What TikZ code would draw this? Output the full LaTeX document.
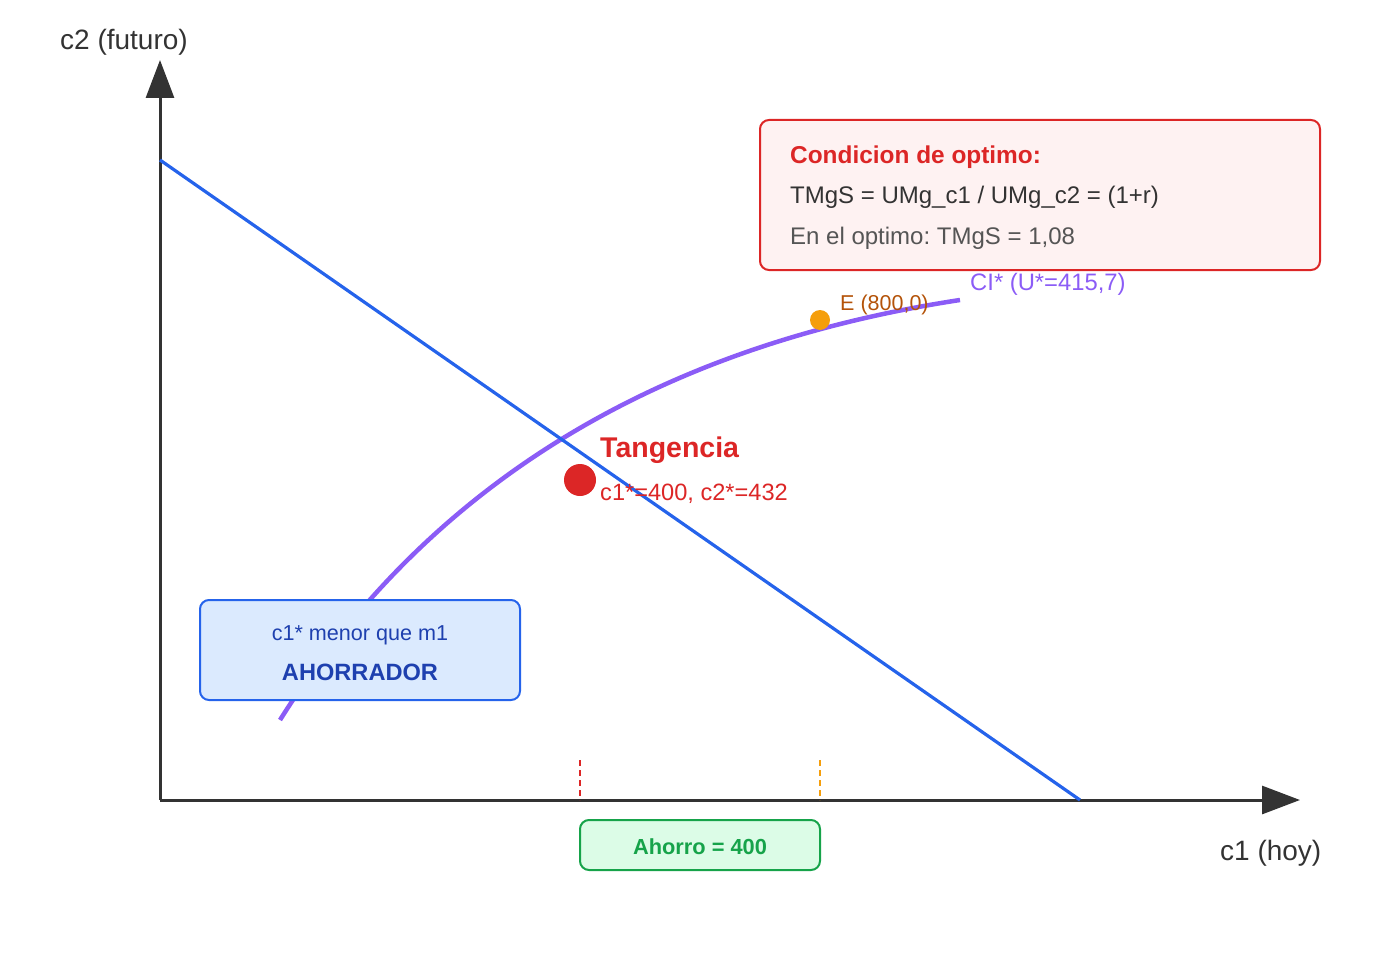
\documentclass[tikz,border=0pt]{standalone}
\usepackage{fontspec}
\setmainfont{Liberation Sans}
\usetikzlibrary{arrows.meta}
\frenchspacing
\definecolor{axis}{HTML}{333333}
\definecolor{bline}{HTML}{2563EB}
\definecolor{purp}{HTML}{8B5CF6}
\definecolor{redc}{HTML}{DC2626}
\definecolor{orng}{HTML}{F59E0B}
\definecolor{orngtxt}{HTML}{B45309}
\definecolor{redfill}{HTML}{FEF2F2}
\definecolor{bluefill}{HTML}{DBEAFE}
\definecolor{bluetxt}{HTML}{1E40AF}
\definecolor{grnfill}{HTML}{DCFCE7}
\definecolor{grn}{HTML}{16A34A}
\definecolor{graytxt}{HTML}{555555}
\newcommand{\fs}[1]{\fontsize{#1}{#1}\selectfont}
\tikzset{
  axisline/.style={draw=axis, line width=3pt, -{Triangle[length=38pt,width=28pt]}},
  txt/.style={inner sep=0pt, anchor=base west},
  ctxt/.style={inner sep=0pt, anchor=base},
  infobox/.style={rounded corners=9pt, line width=2pt},
  guide/.style={line width=2pt, dash pattern=on 6pt off 4pt},
}
\begin{document}
\begin{tikzpicture}[x=1pt,y=-1pt]
\useasboundingbox (0,0) rectangle (1400,960);
% coordinates
\coordinate (O) at (160,800);
\coordinate (Ytop) at (160,60);
\coordinate (Xend) at (1300,800);
\coordinate (B1) at (160,160);
\coordinate (B2) at (1080,800);
\coordinate (C0) at (280,720);
\coordinate (C3) at (960,300);
% axes
\draw[axisline] (O) -- (Ytop);
\draw[axisline] (O) -- (Xend);
% indifference curve
\draw[purp, line width=4.5pt] (C0) .. controls (426.7,486.7) and (653.3,346.7) .. (C3);
% budget line
\draw[bline, line width=3.2pt] (B1) -- (B2);
% guides
\coordinate (R1) at (580,760); \coordinate (R2) at (580,800);
\coordinate (Q1) at (820,760); \coordinate (Q2) at (820,800);
\draw[guide, redc] (R1) -- (R2);
\draw[guide, orng] (Q1) -- (Q2);
% points
\fill[redc] (580,480) circle (16pt) coordinate (T);
\fill[orng] (820,320) circle (10pt) coordinate (E);
% red box
\draw[infobox, draw=redc, fill=redfill] (760,120) rectangle (1320,270);
\node[txt, text=redc] (cond) at (790,164) {\fs{24.4}\bfseries Condicion de optimo:};
\node[txt, text=axis] (tmgs) at (790,204) {\fs{24}TMgS = UMg\_c1 / UMg\_c2 = (1+r)};
\node[txt, text=graytxt] (enel) at (790,244) {\fs{24}En el optimo: TMgS = 1,08};
% blue box
\draw[infobox, draw=bline, fill=bluefill] (200,600) rectangle (520,700);
\node[ctxt, text=bluetxt] (menor) at (360,640) {\fs{21.6}c1* menor que m1};
\node[ctxt, text=bluetxt] (ahor) at (360,680) {\fs{23.6}\bfseries AHORRADOR};
% green box
\draw[infobox, draw=grn, fill=grnfill] (580,820) rectangle (820,870);
\node[ctxt, text=grn] (ahorro) at (700,854) {\fs{21.8}\bfseries Ahorro = 400};
% labels
\node[txt, text=purp] (ci) at (970,290) {\fs{23.8}CI* (U*=415,7)};
\node[txt, text=orngtxt] (elab) at (840,310) {\fs{21.5}E (800,0)};
\node[txt, text=redc] (tang) at (600,457) {\fs{28.5}\bfseries Tangencia};
\node[txt, text=redc] (copt) at (600,500) {\fs{23.6}c1*=400, c2*=432};
\node[txt, text=axis] (ylab) at (60,50) {\fs{28}c2 (futuro)};
\node[txt, text=axis] (xlab) at (1220,860) {\fs{28}c1 (hoy)};
\end{tikzpicture}
\end{document}
